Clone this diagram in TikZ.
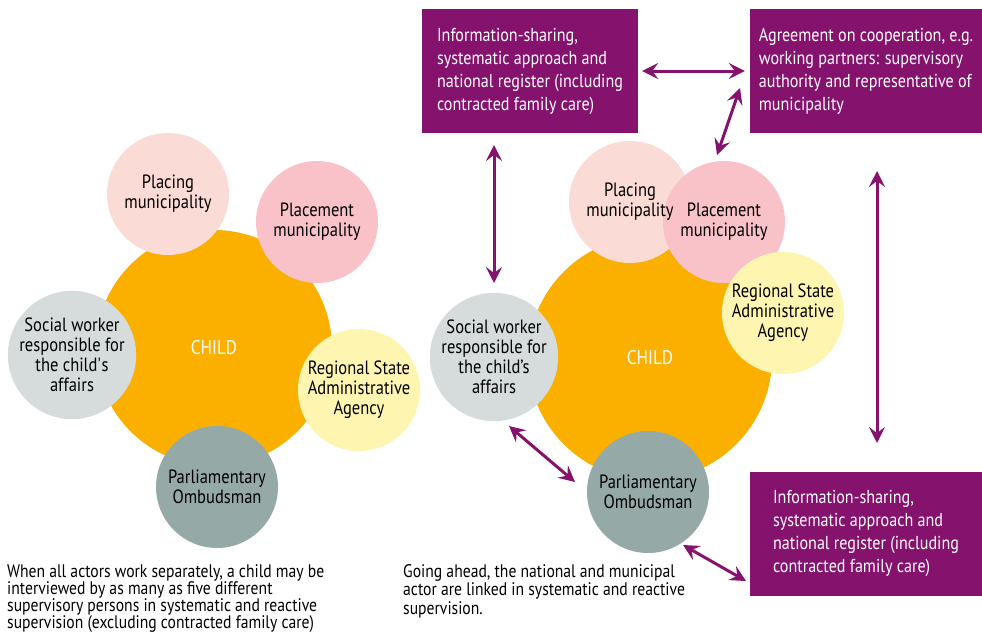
\documentclass[tikz,border=0pt]{standalone}
\usepackage{fontspec}
\setmainfont{PT Sans}[FakeStretch=0.86]
\usetikzlibrary{arrows.meta}

\definecolor{childorange}{HTML}{FBB000}
\definecolor{placingpink}{HTML}{FADBD5}
\definecolor{placementpink}{HTML}{F8C2C8}
\definecolor{socialgrey}{HTML}{D5DCDB}
\definecolor{regionalyellow}{HTML}{FEF5B0}
\definecolor{ombudsgrey}{HTML}{95A9A6}
\definecolor{boxpurple}{HTML}{85136E}

\begin{document}
\begin{tikzpicture}[x=1pt, y=-1pt,
  actor/.style={circle, minimum size=122pt, inner sep=0pt, align=center, font=\fontsize{19.2}{20}\selectfont},
  childcircle/.style={circle, fill=childorange, inner sep=0pt, text=white, font=\fontsize{19.8}{22}\selectfont},
  infobox/.style={fill=boxpurple, text=white, align=left, minimum height=124pt, inner sep=0pt, font=\fontsize{18.7}{23}\selectfont},
  caption/.style={anchor=north west, align=left, inner sep=0pt, font=\fontsize{18.2}{17}\selectfont},
  link/.style={draw=boxpurple, line width=3pt, {Stealth[length=16pt,width=16pt,inset=6pt]}-{Stealth[length=16pt,width=16pt,inset=6pt]}}
]
\useasboundingbox (0,0) rectangle (982,640);

% Actors working separately
\node[childcircle, minimum size=236pt] (child1) at (214,348) {CHILD};
\node[actor, fill=placingpink] (placing1) at (168,194) {Placing\\municipality};
\node[actor, fill=placementpink] (placement1) at (317,222) {Placement\\municipality};
\node[actor, fill=socialgrey] (social1) at (72,355) {Social worker\\responsible for\\the child\textquotesingle s\\affairs};
\node[actor, fill=regionalyellow] (regional1) at (359,390) {Regional State\\Administrative\\Agency};
\node[actor, fill=ombudsgrey] (ombuds1) at (217,487) {Parliamentary\\Ombudsman};

% Actors linked together
\node[childcircle, minimum size=244pt] (child2) at (650,358) {CHILD};
\node[actor, fill=placingpink] (placing2) at (630,202) {};
\node[actor, fill=placementpink] (placement2) at (724,222) {Placement\\municipality};
\node[actor] (placing2text) at (placing2) {Placing\\municipality};
\node[actor, fill=regionalyellow] (regional2) at (783,313) {Regional State\\Administrative\\Agency};
\node[actor, fill=socialgrey] (social2) at (494,357) {Social worker\\responsible for\\the child’s\\affairs};
\node[actor, fill=ombudsgrey] (ombuds2) at (648,492) {Parliamentary\\Ombudsman};

% Boxes
\node[infobox, minimum width=216pt] (info1) at (530,71) {Information-sharing,\\systematic approach and\\national register (including\\contracted family care)};
\node[infobox, minimum width=232pt] (agree) at (866,71) {Agreement on cooperation, e.g.\\working partners: supervisory\\authority and representative of\\municipality};
\node[infobox, minimum width=232pt] (info2) at (866,533.5) {Information-sharing,\\systematic approach and\\national register (including\\contracted family care)};

% Arrow ends
\coordinate (agreeend) at (740,88);
\coordinate (placementend) at (717,155);
\coordinate (infoend) at (494,145);
\coordinate (socialtop) at (494,283);
\coordinate (agreebelow) at (877,171);
\coordinate (info2above) at (877,443);
\coordinate (socialend) at (509,426);
\coordinate (ombudsleft) at (575,482);
\coordinate (ombudsend) at (683,545);
\coordinate (info2end) at (746,581);

\draw[link, shorten <=4pt, shorten >=5pt] (info1.east) -- (agree.west);
\draw[link] (agreeend) -- (placementend);
\draw[link] (infoend) -- (socialtop);
\draw[link] (agreebelow) -- (info2above);
\draw[link] (socialend) -- (ombudsleft);
\draw[link] (ombudsend) -- (info2end);

% Captions
\node[caption] (caption1) at (7,564) {When all actors work separately, a child may be\\interviewed by as many as five different\\supervisory persons in systematic and reactive\\supervision (excluding contracted family care)};
\node[caption, font=\fontsize{18.2}{18.5}\selectfont] (caption2) at (403,564) {Going ahead, the national and municipal\\actor are linked in systematic and reactive\\supervision.};
\end{tikzpicture}
\end{document}
